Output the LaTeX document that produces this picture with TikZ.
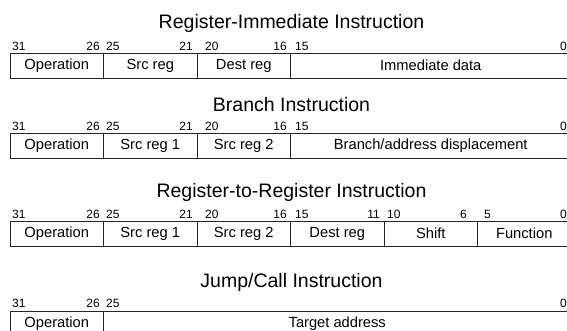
\documentclass[tikz,border=0pt]{standalone}
\usepackage{fontspec}
\setmainfont{Liberation Sans}
\tikzstyle{field} = [rectangle, draw=black!85, line width=0.9pt, minimum height=25pt, inner sep=0pt, font=\fontsize{14.7}{16}\selectfont]
\tikzstyle{heading} = [anchor=base, inner sep=0pt, font=\fontsize{19.5}{22}\selectfont]
\tikzstyle{bithi} = [anchor=base west, inner sep=0pt, font=\fontsize{12}{14}\selectfont]
\tikzstyle{bitlo} = [anchor=base east, inner sep=0pt, font=\fontsize{12}{14}\selectfont]

\begin{document}
\begin{tikzpicture}[x=1pt, y=-1pt]
\useasboundingbox (0, 0) rectangle (567, 330);

% register-immediate
\node [heading] at (291.5, 28) (ri) {Register-Immediate Instruction};
\foreach \b/\x in {31/12, 25/106, 20/205, 15/295}
  \node [bithi] at (\x, 50) (ri-h\b) {\b};
\foreach \b/\x in {26/100, 21/193, 16/287, 0/567}
  \node [bitlo] at (\x, 50) (ri-l\b) {\b};
\node [field, minimum width=93.5pt] at (56.75, 65.5) (ri-op) {Operation};
\node [field, minimum width=93.5pt] at (150.25, 65.5) (ri-src) {Src reg};
\node [field, minimum width=93.5pt] at (243.75, 65.5) (ri-dst) {Dest reg};
\node [field, minimum width=280.5pt] at (430.75, 65.5) (ri-imm) {Immediate data};

% branch
\node [heading] at (291.5, 111.5) (br) {Branch Instruction};
\foreach \b/\x in {31/12, 25/106, 20/205, 15/295}
  \node [bithi] at (\x, 130) (br-h\b) {\b};
\foreach \b/\x in {26/100, 21/193, 16/287, 0/567}
  \node [bitlo] at (\x, 130) (br-l\b) {\b};
\node [field, minimum width=93.5pt] at (56.75, 145.5) (br-op) {Operation};
\node [field, minimum width=93.5pt] at (150.25, 145.5) (br-src1) {Src reg 1};
\node [field, minimum width=93.5pt] at (243.75, 145.5) (br-src2) {Src reg 2};
\node [field, minimum width=280.5pt] at (430.75, 145.5) (br-disp) {Branch/address displacement};

% register-to-register
\node [heading] at (291.5, 197.5) (rr) {Register-to-Register Instruction};
\foreach \b/\x in {31/12, 25/106, 20/205, 15/295, 10/387, 5/484}
  \node [bithi] at (\x, 218) (rr-h\b) {\b};
\foreach \b/\x in {26/100, 21/193, 16/287, 11/380, 6/467, 0/567}
  \node [bitlo] at (\x, 218) (rr-l\b) {\b};
\node [field, minimum width=93.5pt] at (56.75, 233.5) (rr-op) {Operation};
\node [field, minimum width=93.5pt] at (150.25, 233.5) (rr-src1) {Src reg 1};
\node [field, minimum width=93.5pt] at (243.75, 233.5) (rr-src2) {Src reg 2};
\node [field, minimum width=93.5pt] at (337.25, 233.5) (rr-dst) {Dest reg};
\node [field, minimum width=93.5pt] at (430.75, 233.5) (rr-sh) {Shift};
\node [field, minimum width=93.5pt] at (524.25, 233.5) (rr-fn) {Function};

% jump/call
\node [heading] at (291.5, 287.5) (jc) {Jump/Call Instruction};
\foreach \b/\x in {31/12, 25/106}
  \node [bithi] at (\x, 307) (jc-h\b) {\b};
\foreach \b/\x in {26/100, 0/567}
  \node [bitlo] at (\x, 307) (jc-l\b) {\b};
\node [field, minimum width=93.5pt] at (56.75, 323.5) (jc-op) {Operation};
\node [field, minimum width=467.5pt] at (337.25, 323.5) (jc-tgt) {Target address};

\end{tikzpicture}
\end{document}
